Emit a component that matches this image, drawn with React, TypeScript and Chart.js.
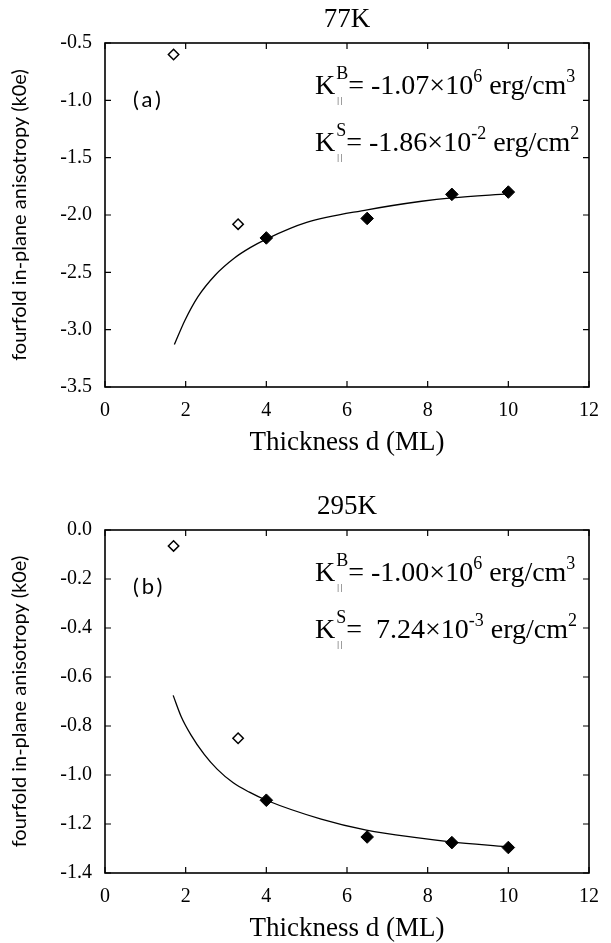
import React, { useEffect, useRef } from "react";
import { Chart, registerables } from "chart.js";

Chart.register(...registerables);

// ---------- data ----------
const xTickMin = 0;
const xTickMax = 12;
const xTickStep = 2;

// panel (a) 77K
const openXA = [1.7, 3.3];
const openYA = [-0.6, -2.08];
const fillXA = [4, 6.5, 8.6, 10];
const fillYA = [-2.2, -2.03, -1.82, -1.8];
const fitXA = [1.72, 1.98, 2.31, 2.73, 3.21, 3.6, 4.0, 5.0, 6.5, 7.85, 8.6, 10.0];
const fitYA = [-3.13, -2.92, -2.71, -2.525, -2.375, -2.285, -2.21, -2.065, -1.955, -1.88, -1.85, -1.815];
const yTicksA = { min: -3.5, max: -0.5, step: 0.5 };

// panel (b) 295K
const openXB = [1.7, 3.3];
const openYB = [-0.065, -0.85];
const fillXB = [4, 6.5, 8.6, 10];
const fillYB = [-1.103, -1.253, -1.276, -1.296];
const fitXB = [1.69, 1.89, 2.13, 2.46, 2.78, 3.18, 3.58, 4.0, 5.36, 6.48, 7.77, 8.57, 9.94];
const fitYB = [-0.675, -0.762, -0.836, -0.916, -0.976, -1.032, -1.07, -1.103, -1.18, -1.225, -1.257, -1.273, -1.293];
const yTicksB = { min: -1.4, max: 0, step: 0.2 };

const titles = ["77K", "295K"];
const tags = ["(a)", "(b)"];
const xTitle = "Thickness d (ML)";
const yTitle = "fourfold in-plane anisotropy (k0e)";

type Part = { t: string; s: boolean };
const annotA: { sup: string; parts: Part[] }[] = [
  { sup: "B", parts: [{ t: "= -1.07\u00d710", s: false }, { t: "6", s: true }, { t: " erg/cm", s: false }, { t: "3", s: true }] },
  { sup: "S", parts: [{ t: "= -1.86\u00d710", s: false }, { t: "-2", s: true }, { t: " erg/cm", s: false }, { t: "2", s: true }] },
];
const annotB: { sup: string; parts: Part[] }[] = [
  { sup: "B", parts: [{ t: "= -1.00\u00d710", s: false }, { t: "6", s: true }, { t: " erg/cm", s: false }, { t: "3", s: true }] },
  { sup: "S", parts: [{ t: "=  7.24\u00d710", s: false }, { t: "-3", s: true }, { t: " erg/cm", s: false }, { t: "2", s: true }] },
];

const SERIF = "'Liberation Serif', 'Times New Roman', serif";
const SANS = "Lato, 'Open Sans', sans-serif";

function zip(xs: number[], ys: number[]) {
  return xs.map((x, i) => ({ x, y: ys[i] }));
}

function drawK(ctx: CanvasRenderingContext2D, x: number, base: number, sup: string, parts: Part[]) {
  const MAIN = `28px ${SERIF}`;
  const SMALL = `18px ${SERIF}`;
  const SUB = `8px ${SERIF}`;
  ctx.textAlign = "left";
  ctx.textBaseline = "alphabetic";
  ctx.font = MAIN;
  ctx.fillText("K", x, base);
  let cx = x + ctx.measureText("K").width;
  ctx.font = SMALL;
  ctx.fillText(sup, cx + 1, base - 15);
  const sw = ctx.measureText(sup).width;
  ctx.font = SUB;
  ctx.fillText("| |", cx + 2, base + 8.5);
  cx += sw + 1;
  for (const p of parts) {
    ctx.font = p.s ? SMALL : MAIN;
    ctx.fillText(p.t, cx, p.s ? base - 12 : base);
    cx += ctx.measureText(p.t).width;
  }
}

const framePlugin = {
  id: "frame",
  afterDraw(chart: any, _args: any, opts: any) {
    const { ctx, chartArea: a, scales } = chart;
    ctx.save();
    ctx.strokeStyle = "#000";
    ctx.lineWidth = 1.6;
    ctx.strokeRect(a.left, a.top, a.right - a.left, a.bottom - a.top);
    const L = 6;
    ctx.lineWidth = 1.2;
    ctx.beginPath();
    scales.x.ticks.forEach((t: any) => {
      const px = scales.x.getPixelForValue(t.value);
      ctx.moveTo(px, a.bottom);
      ctx.lineTo(px, a.bottom - L);
      ctx.moveTo(px, a.top);
      ctx.lineTo(px, a.top + L);
    });
    scales.y.ticks.forEach((t: any) => {
      const py = scales.y.getPixelForValue(t.value);
      ctx.moveTo(a.left, py);
      ctx.lineTo(a.left + L, py);
      ctx.moveTo(a.right, py);
      ctx.lineTo(a.right - L, py);
    });
    ctx.stroke();

    ctx.fillStyle = "#000";
    // title
    ctx.font = `27px ${SERIF}`;
    ctx.textAlign = "center";
    ctx.textBaseline = "alphabetic";
    ctx.fillText(opts.title, (a.left + a.right) / 2, a.top - 16);
    // tag
    ctx.font = `22px ${SANS}`;
    (ctx as any).letterSpacing = "3px";
    ctx.textAlign = "left";
    ctx.textBaseline = "middle";
    ctx.fillText(opts.tag, a.left + 28, a.top + 57);
    (ctx as any).letterSpacing = "0px";
    // annotations
    const ax = a.left + 210;
    opts.annot.forEach((row: any, i: number) => {
      drawK(ctx, ax, a.top + 51 + i * 57, row.sup, row.parts);
    });
    ctx.restore();
  },
};

type PanelProps = {
  height: number;
  padTop: number;
  xHeight: number;
  xTitlePad: number;
  openX: number[];
  openY: number[];
  fillX: number[];
  fillY: number[];
  fitX: number[];
  fitY: number[];
  yTicks: { min: number; max: number; step: number };
  title: string;
  tag: string;
  annot: { sup: string; parts: Part[] }[];
};

function Panel(p: PanelProps) {
  const ref = useRef<HTMLCanvasElement | null>(null);
  useEffect(() => {
    if (!ref.current) return;
    const chart = new Chart(ref.current, {
      type: "scatter",
      data: {
        datasets: [
          {
            data: zip(p.fillX, p.fillY),
            pointStyle: "rectRot",
            pointRadius: 6.3,
            backgroundColor: "#000",
            borderColor: "#000",
            borderWidth: 1,
          },
          {
            data: zip(p.openX, p.openY),
            pointStyle: "rectRot",
            pointRadius: 5.2,
            backgroundColor: "#fff",
            borderColor: "#000",
            borderWidth: 1.5,
          },
          {
            data: zip(p.fitX, p.fitY),
            showLine: true,
            pointRadius: 0,
            borderColor: "#000",
            borderWidth: 1.3,
            cubicInterpolationMode: "monotone",
          } as any,
        ],
      },
      options: {
        responsive: false,
        animation: false,
        events: [],
        layout: { padding: { top: p.padTop, right: 10, left: 0, bottom: 0 } },
        plugins: {
          legend: { display: false },
          tooltip: { enabled: false },
          title: { display: false },
          frame: { title: p.title, tag: p.tag, annot: p.annot },
        } as any,
        scales: {
          x: {
            type: "linear",
            min: xTickMin,
            max: xTickMax,
            ticks: {
              stepSize: xTickStep,
              color: "#000",
              padding: 12,
              font: { family: SERIF, size: 20 },
            },
            grid: { display: false, drawTicks: false },
            border: { display: false },
            title: {
              display: true,
              text: xTitle,
              color: "#000",
              font: { family: SERIF, size: 27, lineHeight: 1 },
              padding: { top: 0, bottom: p.xTitlePad },
            },
            afterFit: (s: any) => {
              s.height = p.xHeight;
            },
          },
          y: {
            type: "linear",
            min: p.yTicks.min,
            max: p.yTicks.max,
            ticks: {
              stepSize: p.yTicks.step,
              color: "#000",
              padding: 13,
              font: { family: SERIF, size: 20 },
              callback: (v: any) => {
                const n = Number(v);
                return Math.abs(n) < 1e-9 ? "0.0" : n.toFixed(1);
              },
            },
            grid: { display: false, drawTicks: false },
            border: { display: false },
            title: {
              display: true,
              text: yTitle,
              color: "#000",
              font: { family: SANS, size: 20, lineHeight: 1.2 },
              padding: { top: 8, bottom: 0 },
            },
            afterFit: (s: any) => {
              s.width = 105;
            },
          },
        },
      },
      plugins: [framePlugin as any],
    });
    return () => chart.destroy();
  }, []);
  return <canvas ref={ref} width={611} height={p.height} style={{ display: "block" }} />;
}

export default function App() {
  return (
    <div style={{ position: "absolute", left: 0, top: 0, width: 611, height: 943, background: "#fff" }}>
      <Panel
        height={470}
        padTop={43}
        xHeight={83}
        xTitlePad={13.5}
        openX={openXA}
        openY={openYA}
        fillX={fillXA}
        fillY={fillYA}
        fitX={fitXA}
        fitY={fitYA}
        yTicks={yTicksA}
        title={titles[0]}
        tag={tags[0]}
        annot={annotA}
      />
      <Panel
        height={473}
        padTop={60}
        xHeight={70}
        xTitlePad={0.5}
        openX={openXB}
        openY={openYB}
        fillX={fillXB}
        fillY={fillYB}
        fitX={fitXB}
        fitY={fitYB}
        yTicks={yTicksB}
        title={titles[1]}
        tag={tags[1]}
        annot={annotB}
      />
    </div>
  );
}
